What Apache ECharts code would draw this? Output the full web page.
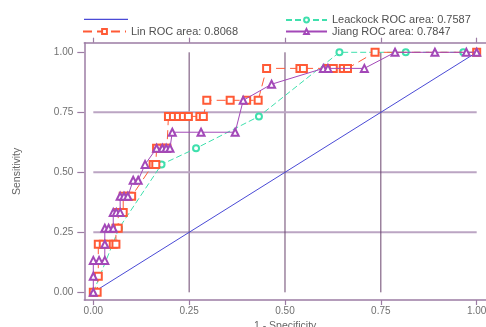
<!DOCTYPE html>
<html>
<head>
<meta charset="utf-8">
<script src="https://cdn.jsdelivr.net/npm/echarts@6/dist/echarts.min.js"></script>
<style>html,body{margin:0;padding:0;background:#fff}#c{width:486px;height:327px}</style>
</head>
<body>
<div id="c"></div>
<script>
// ---- data ----
const tickValues = [0, 0.25, 0.5, 0.75, 1];
const tickLabels = ['0.00', '0.25', '0.50', '0.75', '1.00'];
const gridLevels = [0.25, 0.5, 0.75];

const refName = 'Reference';
const refX = [0, 1];
const refY = [0, 1];

const leackName = 'Leackock ROC area: 0.7587';
const leackX = [0, 0.067, 0.178, 0.268, 0.432, 0.642, 0.815, 0.965, 1];
const leackY = [0, 0.267, 0.533, 0.6, 0.733, 1, 1, 1, 1];

const linName = 'Lin ROC area: 0.8068';
const linX = [0, 0.01, 0.013, 0.013, 0.026, 0.039, 0.052, 0.059, 0.059, 0.065, 0.065, 0.078, 0.078, 0.091, 0.1,
  0.156, 0.163, 0.165, 0.175, 0.185, 0.192, 0.196, 0.209, 0.222, 0.235, 0.248, 0.278, 0.287,
  0.296, 0.357, 0.4, 0.43, 0.452, 0.539, 0.548, 0.613, 0.626, 0.652, 0.663, 0.735, 1];
const linY = [0, 0, 0.067, 0.2, 0.2, 0.2, 0.2, 0.2, 0.267, 0.267, 0.333, 0.333, 0.4, 0.4, 0.4,
  0.533, 0.533, 0.6, 0.6, 0.6, 0.6, 0.733, 0.733, 0.733, 0.733, 0.733, 0.733, 0.733,
  0.8, 0.8, 0.8, 0.8, 0.933, 0.933, 0.933, 0.933, 0.933, 0.933, 0.933, 1, 1];

const jiangName = 'Jiang ROC area: 0.7847';
const jiangX = [0, 0, 0, 0.015, 0.03, 0.03, 0.03, 0.04, 0.052, 0.052, 0.06, 0.07, 0.07, 0.08, 0.09,
  0.104, 0.117, 0.135, 0.165, 0.18, 0.19, 0.2, 0.206, 0.281, 0.37, 0.391, 0.465,
  0.6, 0.612, 0.707, 0.787, 0.891, 0.973, 1];
const jiangY = [0, 0.067, 0.133, 0.133, 0.133, 0.2, 0.267, 0.267, 0.267, 0.333, 0.333, 0.333, 0.4, 0.4, 0.4,
  0.467, 0.467, 0.533, 0.6, 0.6, 0.6, 0.6, 0.667, 0.667, 0.667, 0.8, 0.867,
  0.933, 0.933, 0.933, 1, 1, 1, 1];

// ---- chart ----
const pairs = (xs, ys) => xs.map((x, i) => [x, ys[i]]);
const FONT = 'Liberation Sans';
const axisColor = '#9c7ca4';
const labelColor = '#707070';

const series = [];
gridLevels.forEach(v => {
  series.push({ type: 'line', data: [[0, v], [1, v]], showSymbol: false, silent: true, z: 1,
    lineStyle: { color: '#bba5c3', width: 2 } });
  series.push({ type: 'line', data: [[v, 0], [v, 1]], showSymbol: false, silent: true, z: 1,
    lineStyle: { color: '#6a456e', width: 1 } });
});
series.push({ name: refName, type: 'line', data: pairs(refX, refY), showSymbol: false, symbol: 'none', z: 3,
  lineStyle: { color: '#4a4ad6', width: 1 }, itemStyle: { color: '#4a4ad6' } });
series.push({ name: leackName, type: 'line', data: pairs(leackX, leackY), symbol: 'emptyCircle', symbolSize: 6, z: 4,
  lineStyle: { color: '#3fe0ad', width: 1, type: [6, 3] }, itemStyle: { color: '#3fe0ad', borderWidth: 1 } });
series.push({ name: linName, type: 'line', data: pairs(linX, linY), symbol: 'emptyRect', symbolSize: 7, z: 5,
  lineStyle: { color: '#ff5a36', width: 1, type: [9, 5] }, itemStyle: { color: '#ff5a36', borderWidth: 1 } });
series.push({ name: jiangName, type: 'line', data: pairs(jiangX, jiangY), symbol: 'emptyTriangle', symbolSize: 7, z: 6,
  lineStyle: { color: '#a348b8', width: 1 }, itemStyle: { color: '#a348b8', borderWidth: 1 } });

const legendBase = { orient: 'horizontal', padding: 0, itemHeight: 6, itemGap: 0,
  textStyle: { fontFamily: FONT, fontSize: 11, color: '#505050' } };

const option = {
  animation: false,
  backgroundColor: '#ffffff',
  grid: { left: 84.3, right: 0, top: 42.7, bottom: 27, outerBoundsMode: 'none', containLabel: false },
  legend: [
    Object.assign({}, legendBase, { data: [{ name: refName, icon: 'rect' }], itemWidth: 44, itemHeight: 1.2,
      itemStyle: { color: '#4a4ad6' }, left: 84, top: 18.8, formatter: () => '' }),
    Object.assign({}, legendBase, { data: [leackName], itemWidth: 41, left: 285, top: 14.5 }),
    Object.assign({}, legendBase, { data: [linName], itemWidth: 43, left: 82, top: 26 }),
    Object.assign({}, legendBase, { data: [jiangName], itemWidth: 41, left: 285, top: 26 })
  ],
  xAxis: [
    { type: 'value', position: 'bottom', min: -0.0235, max: 1.0243,
      axisLine: { show: true, onZero: false, lineStyle: { color: axisColor, width: 1.5 } },
      axisTick: { show: true, customValues: tickValues, length: 5, lineStyle: { color: axisColor, width: 1.2 } },
      axisLabel: { show: true, customValues: tickValues, formatter: v => tickLabels[tickValues.indexOf(v)] ?? v.toFixed(2),
        margin: 6, fontFamily: FONT, fontSize: 10, color: labelColor },
      splitLine: { show: false },
      name: '1 - Specificity', nameLocation: 'middle', nameGap: 14,
      nameTextStyle: { fontFamily: FONT, fontSize: 10.5, color: '#666' } },
    { type: 'value', position: 'top', min: -0.0235, max: 1.0243,
      axisLine: { show: true, onZero: false, lineStyle: { color: axisColor, width: 1.5 } },
      axisTick: { show: true, customValues: tickValues, length: 5, lineStyle: { color: axisColor, width: 1.2 } },
      axisLabel: { show: false }, splitLine: { show: false } }
  ],
  yAxis: {
    type: 'value', min: -0.032, max: 1.04,
    axisLine: { show: true, onZero: false, lineStyle: { color: axisColor, width: 1.5 } },
    axisTick: { show: true, customValues: tickValues, length: 7, lineStyle: { color: axisColor, width: 1.2 } },
    axisLabel: { show: true, customValues: tickValues, formatter: v => tickLabels[tickValues.indexOf(v)] ?? v.toFixed(2),
      margin: 11, fontFamily: FONT, fontSize: 10, color: labelColor },
    splitLine: { show: false },
    name: 'Sensitivity', nameLocation: 'middle', nameGap: 62,
    nameTextStyle: { fontFamily: FONT, fontSize: 10.5, color: '#666' }
  },
  series: series
};

const chart = echarts.init(document.getElementById('c'), null, { renderer: 'canvas' });
chart.setOption(option);
</script>
</body>
</html>
